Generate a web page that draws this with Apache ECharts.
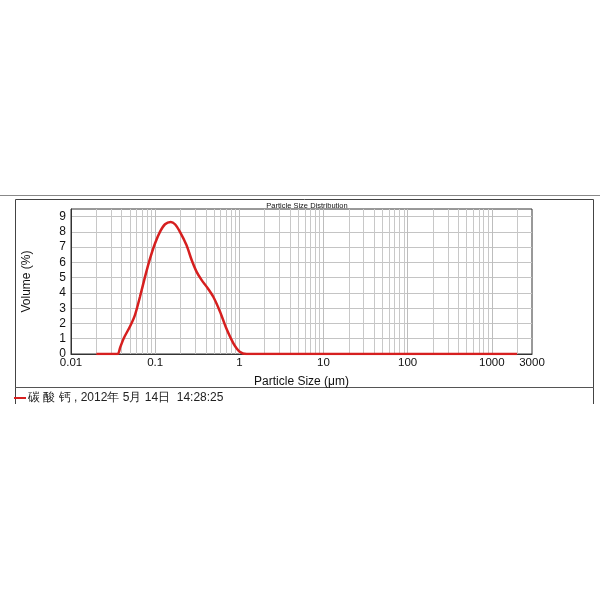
<!DOCTYPE html>
<html>
<head>
<meta charset="utf-8">
<script src="https://cdn.jsdelivr.net/npm/echarts@6/dist/echarts.min.js"></script>
<style>
  html, body { margin: 0; padding: 0; background: #fff; }
  #chart { width: 600px; height: 600px; }
</style>
</head>
<body>
<div id="chart"></div>
<script>
// particle size (um) and volume (%)
var sizes = [0.02, 0.0355, 0.0385, 0.0425, 0.0502, 0.0575, 0.066, 0.0757, 0.0868, 0.0995, 0.114,
  0.131, 0.153, 0.172, 0.197, 0.236, 0.272, 0.311, 0.357, 0.41, 0.49,
  0.59, 0.70, 0.85, 1.01, 1.22, 2000];
var volumes = [0, 0, 0.45, 1.05, 1.8, 2.55, 3.75, 5.05, 6.25, 7.24, 8.0,
  8.5, 8.65, 8.5, 8.0, 7.12, 6.14, 5.38, 4.84, 4.4, 3.75,
  2.77, 1.68, 0.7, 0.15, 0, 0];
var sampleName = "碳 酸 钙 , 2012年 5月 14日  14:28:25";
var yTicks = [0, 1, 2, 3, 4, 5, 6, 7, 8, 9];

var points = sizes.map(function (s, i) { return [s, volumes[i]]; });

// minor log grid lines (2..9 of every decade)
var minorLines = [];
[0.01, 0.1, 1, 10, 100, 1000].forEach(function (d) {
  for (var k = 2; k <= 9; k++) {
    var v = +(d * k).toPrecision(3);
    if (v < 3000) minorLines.push({ xAxis: v });
  }
});

var font = "'Liberation Sans', Arial, sans-serif";
var chart = echarts.init(document.getElementById("chart"));
chart.setOption({
  animation: false,
  title: {
    text: "Particle Size Distribution",
    left: 307,
    top: 201.5,
    padding: 0,
    textAlign: "center",
    textStyle: { fontSize: 7.5, fontWeight: "normal", color: "#111", fontFamily: font }
  },
  legend: {
    data: [{ name: sampleName, icon: "rect" }],
    left: 14,
    top: 392,
    padding: 0,
    itemWidth: 12,
    itemHeight: 2,
    itemGap: 4,
    itemStyle: { color: "#d61f1f" },
    textStyle: { fontSize: 12, color: "#222", fontFamily: font, padding: [0, 0, 0, -3] }
  },
  grid: {
    left: 71,
    right: 68,
    top: 209,
    bottom: 246,
    show: true,
    borderColor: "#333",
    borderWidth: 1
  },
  xAxis: {
    type: "log",
    logBase: 10,
    min: 0.01,
    max: 3000,
    name: "Particle Size (μm)",
    nameLocation: "middle",
    nameGap: 22,
    nameTextStyle: { fontSize: 12, color: "#111", fontFamily: font },
    axisLine: { show: true, lineStyle: { color: "#333" } },
    axisTick: { show: false },
    axisLabel: {
      margin: 3,
      fontSize: 11.5,
      color: "#111",
      fontFamily: font,
      showMinLabel: true,
      showMaxLabel: true,
      formatter: function (v) { return String(+(+v).toPrecision(3)); }
    },
    splitLine: {
      show: true,
      showMinLine: false,
      showMaxLine: false,
      lineStyle: { color: "#bdbdbd", width: 1 }
    }
  },
  yAxis: {
    type: "value",
    min: 0,
    max: 9.5,
    interval: 1,
    name: "Volume (%)",
    nameLocation: "middle",
    nameGap: 38,
    nameRotate: 90,
    nameTextStyle: { fontSize: 12, color: "#111", fontFamily: font },
    axisLine: { show: true, lineStyle: { color: "#333" } },
    axisTick: { show: false },
    axisLabel: {
      margin: 5,
      fontSize: 12,
      color: "#111",
      fontFamily: font,
      showMaxLabel: false,
      formatter: function (v) { return yTicks.indexOf(v) >= 0 ? String(v) : ""; }
    },
    splitLine: {
      show: true,
      showMinLine: false,
      showMaxLine: false,
      lineStyle: { color: "#c4c4c4", width: 1 }
    }
  },
  series: [
    {
      name: "minor",
      type: "line",
      data: [],
      silent: true,
      z: 1,
      markLine: {
        silent: true,
        symbol: "none",
        label: { show: false },
        lineStyle: { color: "#c8c8c8", width: 1, type: "solid" },
        data: minorLines
      }
    },
    {
      name: sampleName,
      type: "line",
      data: points,
      z: 5,
      smooth: 0.3,
      symbol: "none",
      lineStyle: { color: "#d61f1f", width: 2.5 },
      itemStyle: { color: "#d61f1f" }
    }
  ],
  graphic: [
    {
      type: "line",
      shape: { x1: 0, y1: 195.5, x2: 600, y2: 195.5 },
      style: { stroke: "#888", lineWidth: 1 }
    },
    {
      type: "polyline",
      shape: { points: [[15.5, 404], [15.5, 199.5], [593.5, 199.5], [593.5, 404]] },
      style: { stroke: "#444", lineWidth: 1, fill: null }
    },
    {
      type: "line",
      shape: { x1: 15, y1: 387.5, x2: 594, y2: 387.5 },
      style: { stroke: "#555", lineWidth: 1 }
    }
  ]
});
</script>
</body>
</html>
